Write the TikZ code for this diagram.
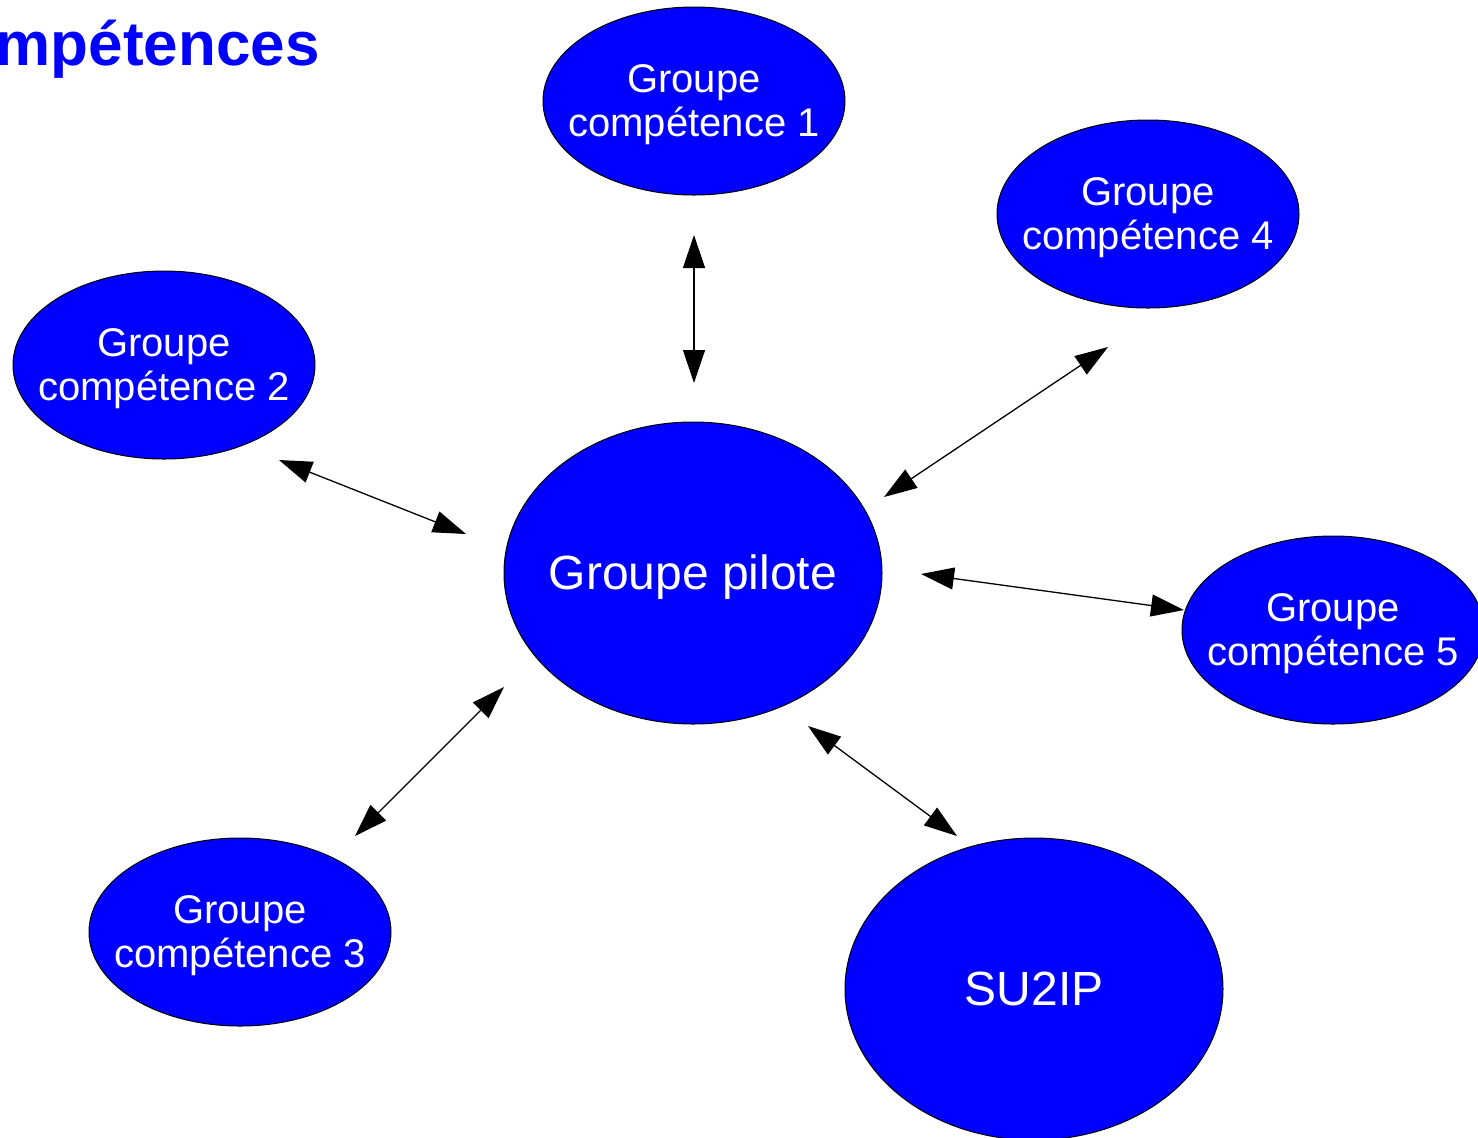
\documentclass[tikz,border=0pt]{standalone}
\usepackage{fontspec}
\setmainfont{Liberation Sans}
\usetikzlibrary{shapes.geometric,arrows.meta}

% texte centre (un peu plus bas) sans elargir l'ellipse
\newcommand{\etiq}[2][-2.5pt]{\makebox[0pt]{%
  \raisebox{#1}{\begin{tabular}{@{}c@{}}#2\end{tabular}}%
  \raisebox{-#1}{\vphantom{\begin{tabular}{@{}c@{}}#2\end{tabular}}}}}

\begin{document}
\begin{tikzpicture}[
                x=0.5pt, y=-0.5pt,
                >={Triangle[length=16.5pt,width=11pt]},
                groupe/.style={draw=black, line width=0.5pt, fill=blue, ellipse, text=white,
                    inner sep=0pt, minimum width=151pt, minimum height=94pt,
                    font=\fontsize{20pt}{22pt}\selectfont},
                grand/.style={groupe, minimum width=189pt, minimum height=151pt,
                    font=\fontsize{24pt}{27pt}\selectfont},
                liaison/.style={<->, line width=0.65pt}
                ]
                \useasboundingbox (0,0) rectangle (1478,1137);
                \clip (0,0) rectangle (1478,1137);

                \node [anchor=base east, text=blue, font=\fontsize{31pt}{36pt}\selectfont\bfseries, inner sep=0pt] (titre) at (320,65) {compétences};

                \node [grand] (pilote) at (693,573) {\etiq[-3pt]{Groupe pilote}};
                \node [groupe] (g1) at (694,101) {\etiq{Groupe\\compétence 1}};
                \node [groupe] (g2) at (164,365) {\etiq{Groupe\\compétence 2}};
                \node [groupe] (g3) at (240,932) {\etiq{Groupe\\compétence 3}};
                \node [groupe] (g4) at (1148,214) {\etiq{Groupe\\compétence 4}};
                \node [groupe] (g5) at (1333,630) {\etiq{Groupe\\compétence 5}};
                \node [grand] (su2ip) at (1034,989) {\makebox[0pt]{SU2IP}};

                % bouts des fleches
                \coordinate (a1) at (694,235);  \coordinate (b1) at (694,383);
                \coordinate (a2) at (279,460);  \coordinate (b2) at (466,534);
                \coordinate (a3) at (355,836);  \coordinate (b3) at (504,687);
                \coordinate (a4) at (1108,347); \coordinate (b4) at (884,497);
                \coordinate (a5) at (1184,610); \coordinate (b5) at (921,574);
                \coordinate (a6) at (957,836);  \coordinate (b6) at (808,726);

                \draw[liaison] (a1) -- (b1);
                \draw[liaison] (a2) -- (b2);
                \draw[liaison] (a3) -- (b3);
                \draw[liaison] (a4) -- (b4);
                \draw[liaison] (a5) -- (b5);
                \draw[liaison] (a6) -- (b6);
\end{tikzpicture}
\end{document}
